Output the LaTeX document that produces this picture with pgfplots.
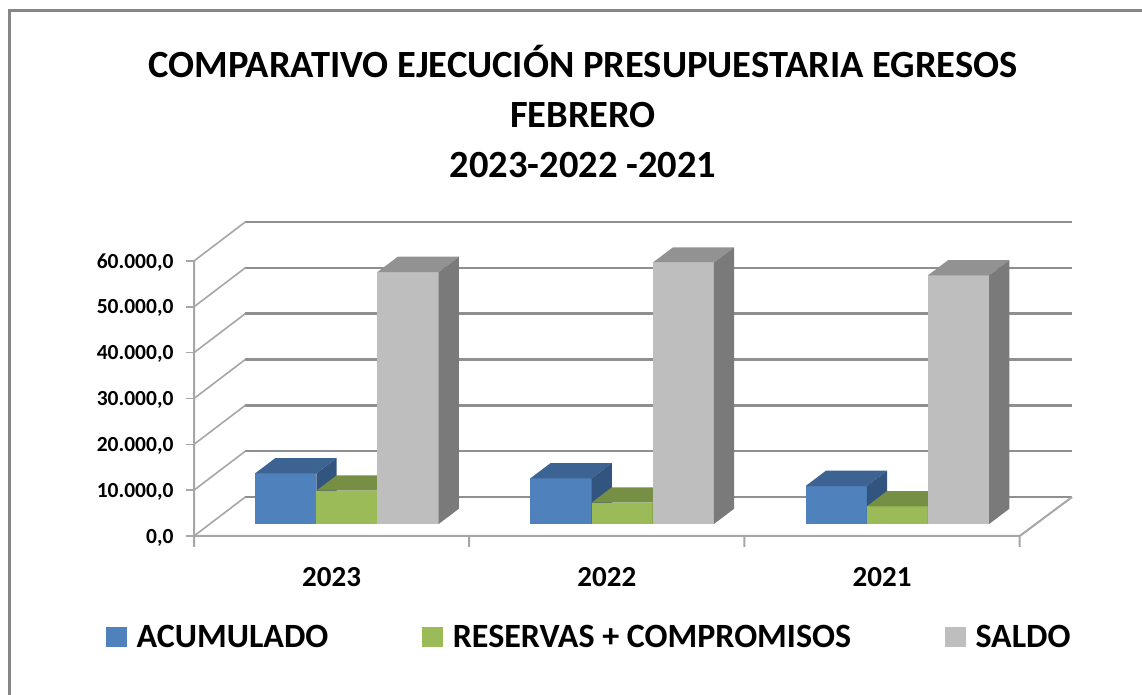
\documentclass[border=0pt]{standalone}
\usepackage{fontspec}
\setmainfont{Carlito}
\usepackage{pgfplots}
\pgfplotsset{compat=1.18}
\definecolor{acu}{HTML}{4F81BD}
\definecolor{acutop}{HTML}{3D6393}
\definecolor{acuside}{HTML}{32557F}
\definecolor{res}{HTML}{9BBB59}
\definecolor{restop}{HTML}{768F44}
\definecolor{resside}{HTML}{657A3B}
\definecolor{sal}{HTML}{BEBEBE}
\definecolor{saltop}{HTML}{929292}
\definecolor{salside}{HTML}{7A7A7A}
\definecolor{gridc}{HTML}{8F8F8F}
\definecolor{axisc}{HTML}{A6A6A6}
\definecolor{framec}{HTML}{868686}

% one 3-D column: left edge, value, front, top and side colour
\newcommand{\columnbox}[5]{%
  \pgfmathsetmacro{\xa}{#1}%
  \pgfmathsetmacro{\xb}{#1+0.2223}%
  \pgfmathsetmacro{\xc}{#1+0.2223+0.0737}%
  \pgfmathsetmacro{\xd}{#1+0.0737}%
  \edef\ya{\the\numexpr 2615\relax}%
  \edef\yb{\the\numexpr 2615+#2\relax}%
  \edef\yc{\the\numexpr 2615+#2+3340\relax}%
  \edef\ye{\the\numexpr 2615+3340\relax}%
  \addplot[fill=#3,draw=none,forget plot] coordinates {(\xa,\ya) (\xb,\ya) (\xb,\yb) (\xa,\yb)} --cycle;
  \addplot[fill=#4,draw=none,forget plot] coordinates {(\xa,\yb) (\xb,\yb) (\xc,\yc) (\xd,\yc)} --cycle;
  \addplot[fill=#5,draw=none,forget plot] coordinates {(\xb,\ya) (\xc,\ye) (\xc,\yc) (\xb,\yb)} --cycle;
}

\begin{document}
\begin{tikzpicture}[x=1pt,y=1pt]
\useasboundingbox (0,0) rectangle (1142,695);
\draw[framec,line width=3pt] (9.5,-2) -- (9.5,684) -- (1145,684);
\node[align=center,font=\fontsize{38.5}{50}\selectfont\bfseries,anchor=center] at (583,583.5)
  {COMPARATIVO EJECUCIÓN PRESUPUESTARIA EGRESOS\\FEBRERO\\2023-2022 -2021};
\begin{axis}[
    at={(194pt,159pt)},
    anchor=origin,
    scale only axis,
    width=878pt,
    height=314pt,
    xmin=0, xmax=3.19,
    ymin=0, ymax=68500,
    clip=false,
    axis line style={draw=none},
    xtick={0,1,2,3},
    xticklabels={},
    extra x ticks={0.5,1.5,2.5},
    extra x tick labels={2023,2022,2021},
    extra x tick style={tick style={draw=none},tick label style={yshift=-20pt}},
    ytick={0,10000,20000,30000,40000,50000,60000},
    yticklabels={{0,0},{10.000,0},{20.000,0},{30.000,0},{40.000,0},{50.000,0},{60.000,0}},
    scaled y ticks=false,
    major tick length=8pt,
    ytick style={axisc,line width=1.5pt},
    xtick style={draw=none},
    tick align=outside,
    xtick pos=bottom,
    ytick pos=left,
    x tick label style={font=\fontsize{29}{32}\selectfont\bfseries},
    y tick label style={font=\fontsize{21.5}{24}\selectfont\bfseries,xshift=-9pt,yshift=-1.5pt},
    legend columns=3,
    legend style={
        at={(-0.1035,-0.322)},
        anchor=west,
        draw=none,
        fill=none,
        font=\fontsize{34}{38}\selectfont\bfseries,
        /tikz/every even column/.append style={column sep=92pt},
        /tikz/every odd column/.append style={column sep=8pt},
    },
    unbounded coords=jump,
]
% back wall lines
\addplot[gridc,line width=2.6pt,forget plot] coordinates {
    (0.1863,8500) (3.19,8500) (nan,nan)
    (0.1863,18500) (3.19,18500) (nan,nan)
    (0.1863,28500) (3.19,28500) (nan,nan)
    (0.1863,38500) (3.19,38500) (nan,nan)
    (0.1863,48500) (3.19,48500) (nan,nan)
    (0.1863,58500) (3.19,58500) (nan,nan)
    (0.1863,68500) (3.19,68500)
};
% side wall lines
\addplot[axisc,line width=1.6pt,forget plot] coordinates {
    (0,0) (0.1863,8500) (nan,nan)
    (0,10000) (0.1863,18500) (nan,nan)
    (0,20000) (0.1863,28500) (nan,nan)
    (0,30000) (0.1863,38500) (nan,nan)
    (0,40000) (0.1863,48500) (nan,nan)
    (0,50000) (0.1863,58500) (nan,nan)
    (0,60000) (0.1863,68500)
};
% front axis lines, floor edge and x ticks
\addplot[axisc,line width=2pt,forget plot] coordinates {
    (0,60000) (0,-2400) (0,0) (3,0) (3.19,8500) (nan,nan)
    (1,0) (1,-2400) (nan,nan)
    (2,0) (2,-2400) (nan,nan)
    (3,0) (3,-2400)
};
\columnbox{0.222}{11050}{acu}{acutop}{acuside}
\columnbox{0.4443}{7260}{res}{restop}{resside}
\columnbox{0.6666}{54970}{sal}{saltop}{salside}
\columnbox{1.222}{9960}{acu}{acutop}{acuside}
\columnbox{1.4443}{4640}{res}{restop}{resside}
\columnbox{1.6666}{57020}{sal}{saltop}{salside}
\columnbox{2.222}{8280}{acu}{acutop}{acuside}
\columnbox{2.4443}{3850}{res}{restop}{resside}
\columnbox{2.6666}{54250}{sal}{saltop}{salside}
\addlegendimage{legend image code/.code={\fill[acu] (0pt,-9.5pt) rectangle (20pt,9.5pt);}}
\addlegendentry{ACUMULADO}
\addlegendimage{legend image code/.code={\fill[res] (0pt,-9.5pt) rectangle (20pt,9.5pt);}}
\addlegendentry{RESERVAS + COMPROMISOS}
\addlegendimage{legend image code/.code={\fill[sal] (0pt,-9.5pt) rectangle (20pt,9.5pt);}}
\addlegendentry{SALDO}
\end{axis}
\end{tikzpicture}
\end{document}
